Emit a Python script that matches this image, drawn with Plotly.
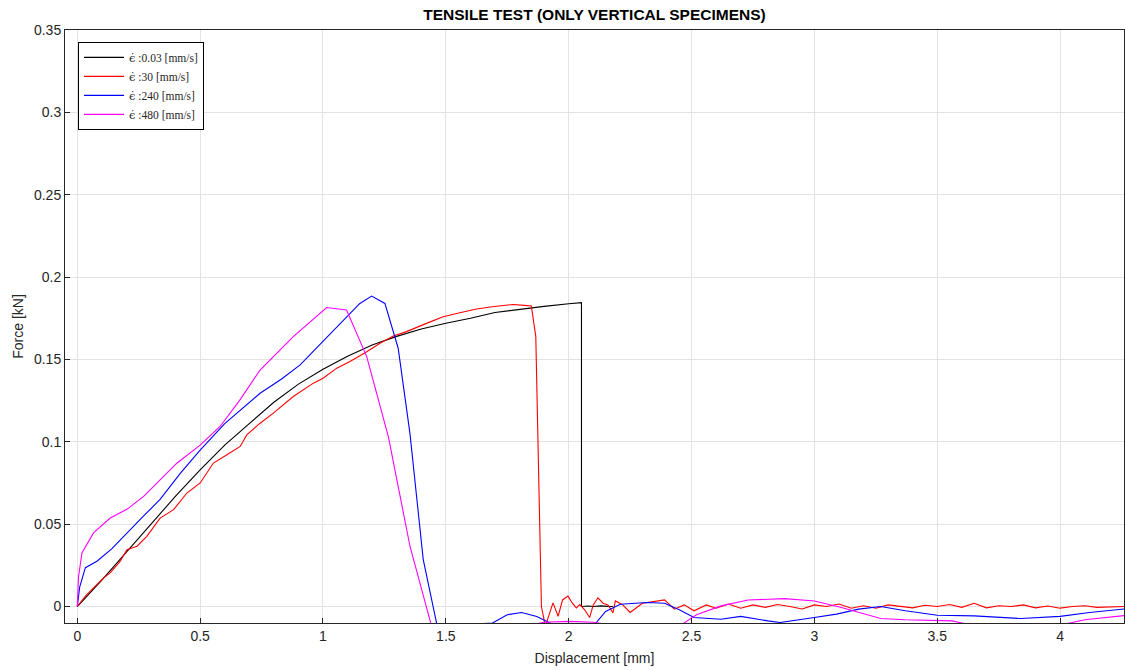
import plotly.graph_objects as go

# ---- data ----
black_x = [0, 0.05, 0.1, 0.2, 0.3, 0.4, 0.5, 0.6, 0.7, 0.8, 0.9, 1.0, 1.1, 1.2, 1.3, 1.4, 1.5,
           1.6, 1.7, 1.8, 1.9, 2.0, 2.052, 2.052, 2.08, 2.1, 2.13, 2.16, 2.18]
black_y = [0, 0.008, 0.016, 0.033, 0.050, 0.067, 0.083, 0.098, 0.111, 0.124, 0.135, 0.144,
           0.152, 0.1588, 0.164, 0.1685, 0.172, 0.175, 0.1785, 0.1805, 0.1822, 0.1838, 0.1845,
           0.0, 0.0003, 0.0, 0.0004, 0.0001, 0.0]

red_x = [0, 0.033, 0.066, 0.107, 0.134, 0.175, 0.202, 0.243, 0.283, 0.337, 0.392, 0.446, 0.5,
         0.554, 0.609, 0.663, 0.69, 0.744, 0.798, 0.879, 0.961, 1.0, 1.056, 1.11, 1.178, 1.232,
         1.286, 1.34, 1.421, 1.489, 1.557, 1.62, 1.68, 1.72, 1.774, 1.82, 1.848, 1.866, 1.889,
         1.905, 1.923, 1.936, 1.957, 1.975, 1.997, 2.015, 2.031, 2.045, 2.065, 2.085, 2.1, 2.119,
         2.14, 2.16, 2.18, 2.19, 2.22, 2.25, 2.3, 2.35, 2.39, 2.43, 2.47, 2.51, 2.56, 2.6, 2.65,
         2.7, 2.75, 2.8, 2.85, 2.9, 2.95, 3.0, 3.05, 3.1, 3.15, 3.2, 3.25, 3.3, 3.35, 3.4, 3.45,
         3.5, 3.55, 3.6, 3.65, 3.7, 3.75, 3.8, 3.85, 3.9, 3.95, 4.0, 4.05, 4.1, 4.15, 4.2, 4.26]
red_y = [0, 0.0063, 0.0113, 0.0174, 0.0204, 0.0275, 0.0345, 0.0366, 0.0426, 0.0537, 0.0588,
         0.0689, 0.075, 0.0871, 0.0921, 0.0972, 0.1042, 0.1113, 0.1174, 0.1275, 0.1356, 0.1386,
         0.1447, 0.1487, 0.1547, 0.1598, 0.1642, 0.1669, 0.1719, 0.1759, 0.1784, 0.1805, 0.1818,
         0.1824, 0.1834, 0.1828, 0.1824, 0.164, 0.0, -0.012, -0.0036, 0.0022, -0.0059, 0.004,
         0.0063, 0.002, -0.0008, 0.0012, -0.002, -0.0067, 0.001, 0.0053, 0.002, 0.001, -0.0038,
         0.0034, 0.001, -0.0036, 0.002, 0.003, 0.004, -0.0016, 0.001, -0.0026, 0.001, -0.001,
         0.0015, -0.001, 0.001, -0.0005, 0.0012, 0.0, -0.0015, 0.001, 0.0, 0.0015, -0.001, 0.0005,
         -0.001, 0.001, 0.0, -0.0008, 0.0008, 0.0, 0.0012, -0.0005, 0.002, -0.0008, 0.0005, 0.0,
         0.001, -0.0008, 0.0003, -0.001, 0.0, 0.0005, -0.0005, -0.0002, 0.0]

blue_x = [0, 0.01, 0.033, 0.08, 0.14, 0.202, 0.27, 0.337, 0.42, 0.5, 0.6, 0.744, 0.83, 0.907,
          1.0, 1.096, 1.15, 1.198, 1.252, 1.306, 1.354, 1.408, 1.465, 1.69, 1.75, 1.808, 1.87,
          1.95, 2.1, 2.15, 2.21, 2.32, 2.39, 2.45, 2.51, 2.62, 2.7, 2.81, 2.86, 3.0, 3.09, 3.18,
          3.27, 3.37, 3.5, 3.65, 3.84, 4.0, 4.12, 4.26]
blue_y = [0, 0.012, 0.0236, 0.0275, 0.035, 0.0447, 0.055, 0.065, 0.081, 0.095, 0.111, 0.1295,
          0.138, 0.1467, 0.161, 0.176, 0.184, 0.1885, 0.184, 0.1568, 0.105, 0.0285, -0.012,
          -0.010, -0.005, -0.0036, -0.006, -0.012, -0.012, -0.003, 0.0014, 0.0024, 0.002, -0.002,
          -0.0067, -0.0077, -0.006, -0.0087, -0.0097, -0.0067, -0.0046, -0.0016, 0.0, -0.0026,
          -0.0053, -0.0057, -0.0073, -0.006, -0.0036, -0.0015]

mag_x = [0, 0.005, 0.019, 0.066, 0.134, 0.202, 0.27, 0.337, 0.405, 0.5, 0.581, 0.66, 0.744,
         0.879, 0.94, 1.015, 1.096, 1.178, 1.266, 1.354, 1.442, 1.82, 1.9, 2.0, 2.1, 2.2, 2.45,
         2.52, 2.62, 2.73, 2.88, 3.0, 3.11, 3.18, 3.27, 3.37, 3.56, 3.66, 3.98, 4.1, 4.26]
mag_y = [0, 0.018, 0.0325, 0.0447, 0.0537, 0.059, 0.0669, 0.077, 0.087, 0.098, 0.1093, 0.125,
         0.1436, 0.1638, 0.172, 0.1815, 0.18, 0.1517, 0.1032, 0.0366, -0.012, -0.012, -0.0095,
         -0.009, -0.0095, -0.012, -0.012, -0.005, 0.0004, 0.004, 0.0048, 0.0034, -0.0006,
         -0.0036, -0.0073, -0.008, -0.0087, -0.012, -0.012, -0.008, -0.0055]

rates = ["0.03", "30", "240", "480"]
colors = ["#000000", "#ff0000", "#0000ff", "#ff00ff"]

x_ticks = [0, 0.5, 1, 1.5, 2, 2.5, 3, 3.5, 4]
y_ticks = [0, 0.05, 0.1, 0.15, 0.2, 0.25, 0.3, 0.35]

fig = go.Figure()
for xs, ys, rate, col in zip([black_x, red_x, blue_x, mag_x], [black_y, red_y, blue_y, mag_y],
                             rates, colors):
    name = '<span style="font-family:DejaVu Serif">ϵ̇</span> :' + rate + " [mm/s]"
    fig.add_trace(go.Scatter(x=xs, y=ys, mode="lines", name=name,
                             line=dict(color=col, width=1.1)))

axis_common = dict(showline=True, mirror=True, linecolor="#262626", linewidth=1,
                   ticks="inside", ticklen=5, tickcolor="#262626", showgrid=True,
                   gridcolor="#e3e3e3", gridwidth=1, zeroline=False,
                   tickfont=dict(family="Arial, Liberation Sans", size=14, color="#262626"))

fig.update_layout(
    width=1125, height=670,
    margin=dict(l=65, r=1, t=30, b=47),
    paper_bgcolor="white", plot_bgcolor="white",
    title=dict(text="<b>TENSILE TEST (ONLY VERTICAL SPECIMENS)</b>", x=0.5, xref="paper",
               y=1 - 15 / 670, yanchor="middle",
               font=dict(family="Arial, Liberation Sans", size=15.5, color="#000000")),
    xaxis=dict(range=[-0.05, 4.26], tickvals=x_ticks,
               title=dict(text="Displacement [mm]", standoff=10,
                          font=dict(family="Arial, Liberation Sans", size=14, color="#262626")),
               **axis_common),
    yaxis=dict(range=[-0.01, 0.35], tickvals=y_ticks,
               title=dict(text="Force [kN]", standoff=7,
                          font=dict(family="Arial, Liberation Sans", size=14, color="#262626")),
               **axis_common),
    legend=dict(x=0.0123, y=0.98, xanchor="left", yanchor="top", bgcolor="white",
                bordercolor="#000000", borderwidth=1, itemwidth=40,
                font=dict(family="Liberation Serif, DejaVu Serif", size=11.5, color="#262626"),
                tracegroupgap=0),
    showlegend=True,
)

fig.write_html("out.html")
